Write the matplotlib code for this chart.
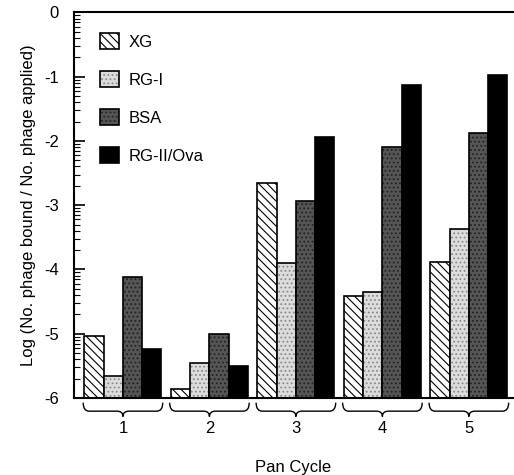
import numpy as np
import matplotlib.pyplot as plt
from matplotlib.path import Path
from matplotlib.patches import PathPatch
import matplotlib.transforms as mtransforms

plt.rcParams['font.family'] = ['Liberation Sans', 'DejaVu Sans']
plt.rcParams['hatch.linewidth'] = 0.8

cycles = [1, 2, 3, 4, 5]
series = ['XG', 'RG-I', 'BSA', 'RG-II/Ova']
xg = [-5.03, -5.86, -2.65, -4.42, -3.89]
rg1 = [-5.65, -5.45, -3.90, -4.35, -3.37]
bsa = [-4.11, -5.00, -2.93, -2.10, -1.87]
rg2 = [-5.24, -5.50, -1.94, -1.13, -0.97]
values = [xg, rg1, bsa, rg2]

base = -6
face = ['white', '#dcdcdc', '#555555', 'black']
hatch = ['\\\\\\\\', '....', '....', None]
hcol = ['black', '#8a8a8a', '#222222', 'black']

fig = plt.figure(figsize=(5.14, 4.75), dpi=100)
ax = fig.add_axes([0.144, 0.162, 0.854, 0.812])

w = 0.2225
x = np.array(cycles, dtype=float)
for i, (name, vals) in enumerate(zip(series, values)):
    pos = x + (i - 1.5) * w
    heights = np.array(vals) - base
    bars = ax.bar(pos, heights, w, bottom=base, color=face[i], edgecolor='black',
                  linewidth=1.2, hatch=hatch[i], label=name)
    for b in bars:
        b._hatch_color = plt.matplotlib.colors.to_rgba(hcol[i])

ax.set_xlim(0.434, 5.51)
ax.set_ylim(-6, 0)
ax.set_yticks(range(-6, 1))
ax.set_yticklabels(['-6', '-5', '-4', '-3', '-2', '-1', '0'], fontsize=12)
minor = [n + np.log10(k) for n in range(-6, 0) for k in range(2, 10)]
ax.set_yticks(minor, minor=True)
ax.tick_params(axis='y', which='major', direction='in', length=8, width=1.2, pad=11)
ax.tick_params(axis='y', which='minor', direction='in', length=4, width=0.8)
ax.set_xticks([])
ax.spines['right'].set_visible(False)
for s in ['left', 'top', 'bottom']:
    ax.spines[s].set_linewidth(1.5)

ax.set_ylabel('Log (No. phage bound / No. phage applied)', fontsize=12, labelpad=6)

# curly braces under each group
trans = mtransforms.blended_transform_factory(ax.transData, ax.transAxes)
for c in cycles:
    x0, x1 = c - 0.46, c + 0.46
    xm = c
    y_end, y_mid, y_tip = -0.012, -0.034, -0.048
    r = 0.07
    verts = [(x0, y_end), (x0, y_mid), (x0 + r, y_mid),
             (xm - r, y_mid), (xm, y_mid), (xm, y_tip),
             (xm, y_mid), (xm + r, y_mid),
             (x1 - r, y_mid), (x1, y_mid), (x1, y_end)]
    codes = [Path.MOVETO, Path.CURVE3, Path.CURVE3,
             Path.LINETO, Path.CURVE3, Path.CURVE3,
             Path.CURVE3, Path.CURVE3,
             Path.LINETO, Path.CURVE3, Path.CURVE3]
    ax.add_patch(PathPatch(Path(verts, codes), transform=trans, fill=False,
                           lw=1.0, clip_on=False))
    ax.text(c, -0.078, str(c), transform=trans, ha='center', va='center', fontsize=12)

ax.text(0.5, -0.18, 'Pan Cycle', transform=ax.transAxes, ha='center', va='center', fontsize=12)

leg = ax.legend(loc='upper left', bbox_to_anchor=(0.026, 0.985), frameon=False, fontsize=12,
                handlelength=1.1, handleheight=1.1, labelspacing=1.28, handletextpad=0.6)

fig.savefig('out.png', dpi=100)
